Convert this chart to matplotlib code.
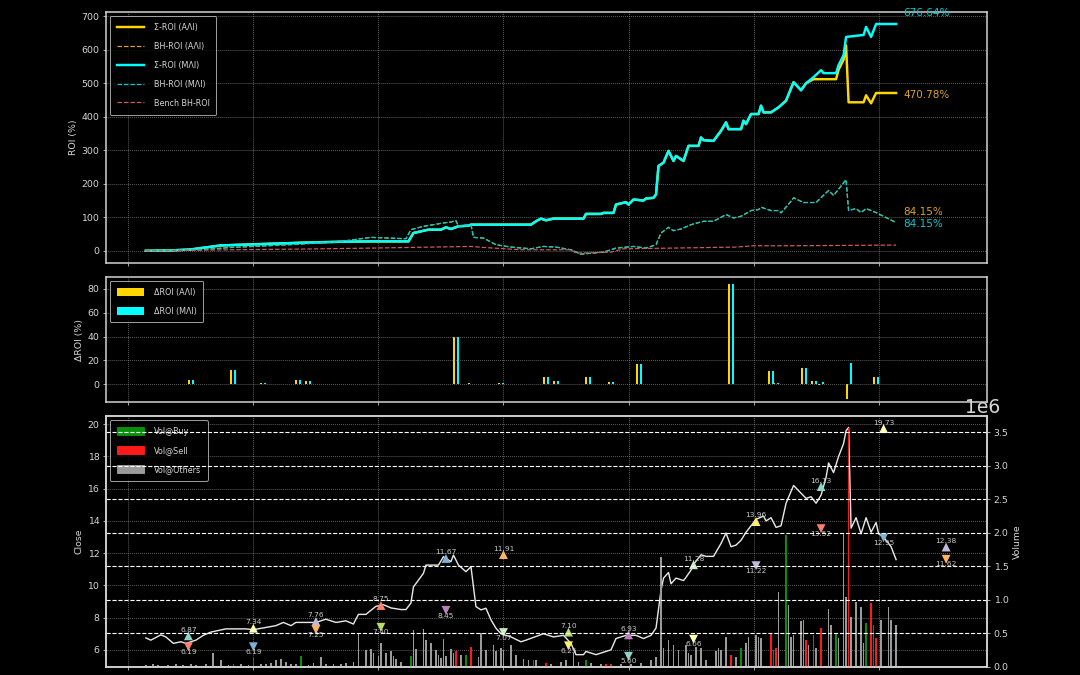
import numpy as np
import matplotlib.pyplot as plt
from matplotlib.patches import Patch

# ---- ROI krivulje (dan, %) ----
mli_days = [0, 10, 18, 22, 26, 30, 46, 62, 78, 90,
            105, 107, 110, 113, 118, 120, 122, 125, 129, 130,
            154, 156, 158, 160, 163, 175, 176, 182, 183, 187,
            188, 192, 193, 195, 199, 200, 203, 204, 205, 207,
            209, 211, 212, 215, 217, 221, 222, 223, 227, 230,
            232, 233, 238, 239, 240, 242, 245, 246, 247, 250,
            252, 253, 256, 259, 262, 264, 267, 270, 271, 276,
            277, 279, 280, 287, 288, 290, 292, 300]
mli_roi = [0, 1, 4, 8, 12, 16, 20, 24, 27, 28,
           28, 53, 58, 63, 63, 70, 65, 73, 75, 78,
           78, 88, 96, 91, 96, 96, 110, 110, 113, 113,
           138, 145, 138, 153, 150, 156, 158, 168, 253, 263,
           298, 268, 283, 268, 313, 313, 338, 330, 328, 358,
           383, 363, 363, 388, 378, 408, 408, 433, 413, 413,
           423, 428, 448, 503, 479, 500, 518, 539, 530, 530,
           554, 584, 638, 644, 668, 638, 676.64, 676.64]

# ΑΛΙ ide isto kao ΜΛΙ do dana 264, zatim se odvaja
ali_tail_days = [267, 276, 277, 279, 280, 281, 287, 288, 290, 292, 300]
ali_tail_roi = [512, 512, 540, 570, 613, 443, 443, 464, 440, 470.78, 470.78]

bh_days = [0, 22, 34, 46, 62, 78, 90, 104, 106, 111,
           119, 122, 124, 125, 130, 131, 135, 140, 146, 154,
           159, 164, 170, 174, 183, 188, 195, 200, 204, 206,
           209, 211, 214, 218, 223, 227, 232, 235, 238, 242,
           245, 246, 250, 253, 254, 258, 259, 263, 268, 273,
           275, 280, 281, 284, 286, 288, 292, 300]
bh_roi = [0, 3, 10, 14, 20, 28, 40, 36, 63, 73,
          83, 86, 90, 73, 78, 40, 38, 18, 11, 6,
          13, 11, 3, -10, -4, 8, 13, 8, 18, 53,
          70, 60, 65, 78, 88, 88, 108, 98, 103, 120,
          123, 130, 120, 120, 113, 148, 158, 144, 144, 180,
          165, 212, 120, 126, 114, 126, 114, 84.15]

bench_days = [0, 22, 46, 62, 90, 130, 135, 150, 170, 172, 186, 191, 210, 236, 243, 258, 300]
bench_roi = [0, 2, 4, 5, 8, 13, 10, 3, 3, -7, -4, 6, 8, 11, 15, 15, 17]

# ---- ΔROI po trgovini ----
d_days = [18, 35, 47, 61, 65, 124, 130, 142, 160, 164, 177, 186, 197,
          234, 250, 252, 263, 267, 270, 281, 292]
d_ali = [4, 12, 1, 4, 2.5, 40, 1, 1, 6, 3, 6, 2, 17, 84, 11, 1, 14, 2.5, -0.5, -12, 6]
d_mli = [4, 12, 1, 4, 2.5, 40, 0.5, 1, 6, 3, 6, 2, 17, 84, 11, 1, 14, 2.5, 2, 18, 6]

# ---- cijena ----
px_days = [0, 2, 6, 8, 11, 14, 16, 20, 23, 26, 32, 40, 43, 47, 52, 55, 58, 60, 64, 68,
           72, 76, 80, 83, 85, 88, 92, 95, 98, 102, 104, 106, 107, 111, 112, 117, 119,
           122, 123, 125, 128, 130, 132, 134, 136, 138, 140, 142, 146, 150, 152, 159,
           163, 167, 170, 172, 175, 176, 180, 184, 186, 188, 192, 196, 199, 202, 204,
           206, 207, 209, 210, 212, 215, 216, 218, 219, 222, 224, 227, 230, 232, 234,
           236, 238, 240, 243, 244, 247, 248, 250, 252, 254, 256, 259, 264, 266, 268,
           270, 272, 273, 275, 277, 279, 280, 281, 282, 284, 286, 288, 290, 292, 293,
           295, 298, 300]
close = [6.74, 6.6, 6.93, 6.8, 6.4, 6.5, 6.4, 6.6, 6.9, 7.1, 7.3, 7.3, 7.25, 7.36, 7.5,
         7.7, 7.5, 7.7, 7.7, 7.7, 7.9, 7.7, 7.8, 7.6, 8.2, 8.2, 8.7, 8.8, 8.6, 8.5, 8.5,
         8.9, 9.9, 10.75, 11.26, 11.26, 11.78, 11.47, 11.88, 11.26, 10.85, 11.16, 8.68,
         8.48, 8.58, 7.86, 7.34, 7.0, 6.8, 6.5, 6.6, 7.0, 6.8, 6.9, 6.4, 5.7, 5.7, 5.9,
         5.7, 5.9, 6.0, 6.7, 6.9, 6.9, 6.7, 6.9, 7.35, 9.7, 10.45, 10.8, 10.1, 10.45,
         10.3, 10.5, 10.95, 11.3, 11.9, 11.8, 11.8, 12.6, 13.25, 12.4, 12.5, 12.8, 13.3,
         13.9, 14.1, 14.3, 14.0, 14.2, 13.6, 13.7, 15.1, 16.2, 15.4, 15.5, 15.1, 15.6,
         16.7, 17.6, 17.0, 18.0, 18.8, 19.6, 19.8, 13.55, 14.2, 13.2, 14.2, 13.3, 13.9,
         13.2, 13.0, 12.4, 11.6]

# ---- volumen (milijuni), vrsta: b = kupnja, s = prodaja, o = ostalo ----
vol_days = [0, 1, 3, 5, 7, 9, 12, 15, 18, 20, 22, 24, 27, 30, 33, 35, 38, 41, 43, 46,
            48, 50, 52, 54, 56, 58, 60, 62, 65, 67, 70, 72, 75, 78, 80,
            83, 85, 88, 90, 91, 93, 94, 96, 98, 99, 100, 102, 106, 107, 108, 111, 112,
            114, 116, 117, 118, 119, 120, 122, 123, 124, 126, 128, 130, 133, 134, 136,
            139, 140, 142, 143, 146, 148, 151, 153, 155, 156, 160, 162, 166, 168, 171,
            173, 176, 178, 182, 184, 186, 190, 194, 198, 202, 204, 206, 207, 209, 211,
            213, 216, 217, 218, 220, 222, 224, 228, 229, 230, 232, 234, 236, 238, 240,
            241, 244, 245, 246, 250, 251, 252, 253, 256, 257, 258, 259, 262, 263, 264,
            265, 267, 268, 270, 273, 274, 276, 277, 279, 280, 281, 282, 284, 286, 287,
            288, 290, 291, 292, 294, 297, 298, 300]
vol_m = [0.03, 0.02, 0.04, 0.03, 0.02, 0.03, 0.05, 0.03, 0.04, 0.03, 0.02, 0.04, 0.2,
         0.1, 0.03, 0.05, 0.04, 0.03, 0.14, 0.05, 0.04, 0.06, 0.1, 0.12, 0.08, 0.04,
         0.05, 0.16, 0.03, 0.06, 0.15, 0.04, 0.05, 0.04, 0.06,
         0.08, 0.5, 0.25, 0.27, 0.2, 0.16, 0.35, 0.2, 0.23, 0.16, 0.12, 0.08, 0.16,
         0.55, 0.27, 0.57, 0.4, 0.35, 0.25, 0.18, 0.13, 0.42, 0.16, 0.27, 0.2, 0.23,
         0.18, 0.18, 0.3, 0.15, 0.5, 0.25, 0.33, 0.23, 0.28, 0.25, 0.33, 0.18, 0.12,
         0.1, 0.1, 0.1, 0.06, 0.05, 0.08, 0.1, 0.2, 0.08, 0.1, 0.06, 0.05, 0.04, 0.04,
         0.05, 0.04, 0.06, 0.1, 0.15, 1.64, 0.28, 0.4, 0.33, 0.25, 0.33, 0.2, 0.18,
         0.3, 0.28, 0.1, 0.23, 0.28, 0.25, 0.45, 0.18, 0.15, 0.28, 0.35, 0.45, 0.48,
         0.45, 0.43, 0.5, 0.25, 0.28, 1.12, 1.97, 0.92, 0.45, 0.48, 0.68, 0.7, 0.4,
         0.33, 0.48, 0.28, 0.58, 0.87, 0.62, 0.5, 0.43, 2.0, 1.05, 3.56, 0.75, 0.97,
         0.9, 0.35, 0.65, 0.95, 0.63, 0.43, 0.7, 0.9, 0.7, 0.63]
vol_kind = ['o', 'o', 'o', 'o', 'o', 'o', 'o', 'o', 'o', 'o', 'o', 'o', 'o',
            'o', 'o', 's', 'o', 'o', 'b', 'o', 'o', 'o', 'o', 'o', 'o', 'o',
            'o', 'b', 'o', 'o', 'o', 'o', 'o', 'o', 'o',
            'o', 'o', 'o', 'o', 'o', 'o', 'o', 'o', 'o', 'o', 'o', 'o', 'b',
            'o', 'o', 'o', 'o', 'o', 'o', 'o', 'o', 'o', 'o', 'o', 'o', 's',
            'o', 'b', 's', 'o', 'o', 'o', 'o', 'o', 'o', 'o', 'o', 'o', 'o',
            'o', 'b', 'o', 's', 'o', 'o', 'o', 'o', 'o', 'b', 'o', 'o', 's', 's',
            'o', 'o', 'o', 'o', 'o', 'o', 'o', 'o', 'o', 'o', 'o', 'o', 'o',
            'o', 'o', 'o', 'o', 'o', 'o', 'o', 's', 'o', 'b', 'o', 'o', 'o',
            'o', 'o', 's', 'b', 's', 'o', 'b', 'o', 'o', 'o', 'o', 'o', 's',
            'o', 's', 'o', 's', 'o', 'o', 'b', 'o', 'o', 'o', 's', 'o', 'o',
            'o', 'o', 'b', 's', 'b', 's', 'o', 'o', 'o', 'o']

# ---- signali kupnje/prodaje ----
sig_days = [17, 43, 68, 94, 120, 143, 169, 193, 219, 244, 270, 295, 320]
buy_px = [6.87, 7.34, 7.76, 8.75, 11.67, 11.91, 7.10, 6.93, 11.28, 13.96, 16.13, 19.73, 12.38]
sell_px = [6.19, 6.19, 7.25, 7.40, 8.45, 7.07, 6.25, 5.60, 6.66, 11.22, 13.52, 12.95, 11.62]

# ---- stil ----
plt.style.use('dark_background')
siva = '#d6d6d6'
plt.rcParams.update({
    'font.family': ['DejaVu Sans'],
    'axes.linewidth': 1.6,
    'axes.edgecolor': siva,
    'axes.labelcolor': siva,
    'text.color': siva,
    'xtick.color': siva,
    'ytick.color': siva,
})
paleta = ['#8dd3c7', '#ffffb3', '#bebada', '#fb8072', '#80b1d3',
          '#fdb462', '#b3de69', '#bc80bd', '#ccebc5', '#ffed6f']
boje_vol = {'b': '#0a8f0a', 's': '#ff1a1a', 'o': '#9a9a9a'}
leg_kw = dict(loc='upper left', fontsize=8.5, labelspacing=1.25, handlelength=3.4,
              handleheight=1.1, handletextpad=1.25, borderpad=0.85)

fig, (ax1, ax2, ax3) = plt.subplots(3, 1, figsize=(16, 10), dpi=67.5, sharex=True,
                                    gridspec_kw={'height_ratios': [2, 1, 2]})
fig.subplots_adjust(left=0.098, right=0.914, top=0.982, bottom=0.012, hspace=0.067)

# ---- CRTANJE: ROI ----
cut = mli_days.index(264) + 1
ali_days = mli_days[:cut] + ali_tail_days
ali_roi = mli_roi[:cut] + ali_tail_roi

ax1.plot(ali_days, ali_roi, color='gold', lw=2.6, label='Σ-ROI (ΑΛΙ)')
ax1.plot(bh_days, bh_roi, color='goldenrod', ls='--', lw=1.3, label='BH-ROI (ΑΛΙ)')
ax1.plot(mli_days, mli_roi, color='cyan', lw=2.6, label='Σ-ROI (ΜΛΙ)')
ax1.plot(bh_days, bh_roi, color='darkturquoise', ls='--', lw=1.3, label='BH-ROI (ΜΛΙ)')
ax1.plot(bench_days, bench_roi, color='indianred', ls='--', lw=1.3, label='Bench BH-ROI')

for val, col, dy in [(mli_roi[-1], 'darkturquoise', 11.5), (ali_roi[-1], 'goldenrod', -2.5),
                     (bh_roi[-1], 'goldenrod', 11.5), (bh_roi[-1], 'darkturquoise', -2)]:
    ax1.annotate(f'{val:.2f}%', (bh_days[-1], val), xytext=(7.5, dy),
                 textcoords='offset points', ha='left', va='center', fontsize=11, color=col)

ax1.set_ylim(-36, 712)
ax1.set_ylabel('ROI (%)')
ax1.grid(True, ls=':', color='0.6', lw=0.8)
ax1.legend(**leg_kw)

# ---- CRTANJE: ΔROI ----
dd = np.array(d_days)
ax2.bar(dd - 0.8, d_ali, width=0.8, color='gold', label='ΔROI (ΑΛΙ)')
ax2.bar(dd + 0.8, d_mli, width=0.8, color='cyan', label='ΔROI (ΜΛΙ)')
ax2.set_ylim(-15, 90)
ax2.set_ylabel('ΔROI (%)')
ax2.grid(True, ls=':', color='0.6', lw=0.8)
ax2.legend(**leg_kw)

# ---- CRTANJE: cijena + volumen ----
ax3.plot(px_days, close, color='#e8e8e8', lw=1.5)
n = len(sig_days)
ax3.scatter(sig_days, buy_px, marker='^', s=90, c=[paleta[i % 10] for i in range(n)],
            edgecolors='none', zorder=3)
ax3.scatter(sig_days, sell_px, marker='v', s=90, c=[paleta[(i + 3) % 10] for i in range(n)],
            edgecolors='none', zorder=3)
for d, b, s in zip(sig_days, buy_px, sell_px):
    ax3.annotate(f'{b:.2f}', (d, b), xytext=(0, 6.5), textcoords='offset points',
                 ha='center', va='center', fontsize=8, color='#c8c8c8')
    ax3.annotate(f'{s:.2f}', (d, s), xytext=(0, -5.5), textcoords='offset points',
                 ha='center', va='center', fontsize=8, color='#c8c8c8')
ax3.set_ylim(4.94, 20.5)
ax3.set_ylabel('Close')
ax3.grid(True, ls=':', color='0.6', lw=0.8)
ax3.legend(handles=[Patch(color=boje_vol['b'], label='Vol@Buy'),
                    Patch(color=boje_vol['s'], label='Vol@Sell'),
                    Patch(color=boje_vol['o'], label='Vol@Others')], **leg_kw)

ax3b = ax3.twinx()
ax3b.bar(vol_days, np.array(vol_m) * 1e6, width=0.7,
         color=[boje_vol[k] for k in vol_kind])
ax3b.set_ylim(0, 3.74e6)
ax3b.set_ylabel('Volume')
ax3b.grid(True, axis='y', ls='--', color='white', lw=1.2)

ax3.set_xlim(-16, 336.4)
ax3.set_xticks(np.arange(-7, 300, 50))
ax3.tick_params(axis='x', labelbottom=False)

# pomak za 1e6 oznaku
fig.canvas.draw()
ot = ax3b.yaxis.get_offset_text()
ot.set_fontsize(20)
ot.set_horizontalalignment('left')
ot.set_x(0.975)

fig.savefig('out.png', dpi=67.5, facecolor='black')
